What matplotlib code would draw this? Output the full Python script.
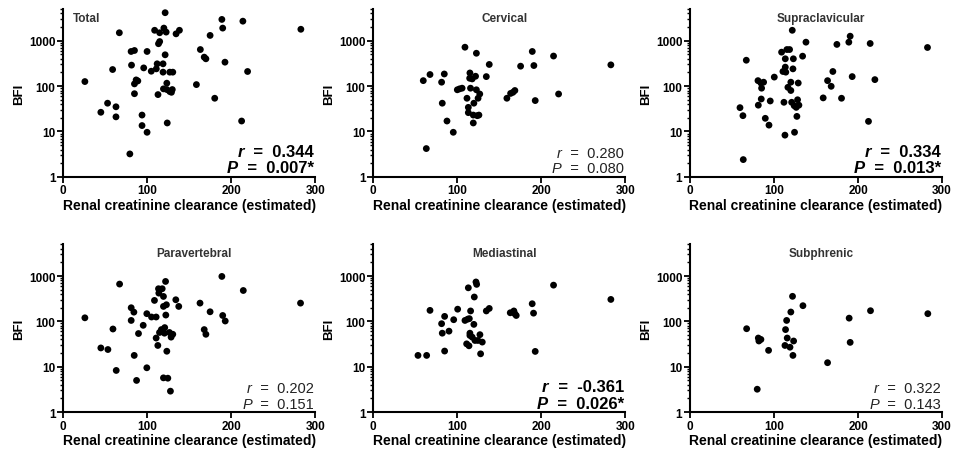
import matplotlib
matplotlib.use("Agg")
import matplotlib.pyplot as plt
from matplotlib.ticker import LogLocator, FixedLocator, FuncFormatter, NullFormatter
from matplotlib.offsetbox import TextArea, HPacker, VPacker, AnchoredOffsetbox

plt.rcParams["font.family"] = ["Liberation Sans", "DejaVu Sans"]

# BFI vs estimated renal creatinine clearance

total_x = [26, 45, 53, 63, 63, 59, 67, 79.5, 81.5, 81, 85, 85, 85, 87, 89, 94, 94, 96,
           100, 100, 105, 109, 111, 112, 113, 113.6, 115, 115, 119, 119, 119.5, 120,
           121.5, 121.5, 122.7, 123.5, 124, 123.5, 127, 127, 129, 130, 130.6, 134.5,
           138.5, 158.7, 163.4, 168, 170, 175, 180.5, 189, 190, 192.7, 212.5, 214,
           219.6, 283]
total_y = [126, 26.5, 42, 35, 21, 232, 1500, 3.2, 290, 580, 610, 68, 112, 137, 130, 23,
           13.5, 252, 9.6, 580, 213, 1700, 240, 310, 65, 860, 960, 1500, 310, 203, 87,
           1900, 4150, 490, 1550, 116, 15.4, 84, 76, 203, 73, 84, 203, 1420, 1700, 108,
           640, 435, 400, 1310, 54, 2950, 1900, 337, 17, 2700, 210, 1790]

cervical_x = [59.8, 67.8, 63.4, 81.6, 82.4, 84.8, 88, 95.5, 100.3, 103, 106, 109.4,
              111.8, 113.4, 113.4, 115, 115.3, 116, 118, 119.3, 119.3, 120, 122, 123,
              123, 124, 125, 126, 127, 134.8, 138.3, 159.3, 163.7, 166.5, 168.8, 175.6,
              189.5, 191.4, 193, 214.8, 220.8, 283]
cervical_y = [132, 180, 4.2, 122, 42, 185, 17, 9.6, 83, 87, 90, 720, 54, 34, 26, 149,
              195, 90, 144, 15.4, 23, 42, 165, 530, 83, 22.3, 54, 23, 67, 162, 300, 54,
              69, 73, 80, 275, 580, 284, 48, 460, 67, 294]

supra_x = [59.5, 63, 63.4, 67, 81.3, 80.9, 84.4, 85.2, 84.8, 87.6, 89.6, 94, 95.5,
           100.3, 109, 110.6, 111.8, 113, 113.4, 113.4, 114, 115.3, 116.5, 118.5, 120,
           120, 121, 121.7, 123, 122.5, 124, 124.4, 126.4, 127.2, 128, 128.8, 129.6, 134,
           138, 158.5, 163.7, 168, 170, 174.8, 180.3, 189, 190.6, 193, 212.4, 214.4, 220,
           282.6]
supra_y = [33.5, 22.3, 2.4, 372, 38, 132, 117, 90, 52, 122, 19.5, 13.8, 47, 158, 560,
           210, 44, 8.3, 400, 262, 203, 640, 94, 640, 122, 80, 44, 1700, 400, 240, 37,
           9.6, 34, 21.5, 50, 117, 38, 457, 930, 55, 132, 99, 210, 830, 54, 930, 1260,
           162, 16.7, 870, 139, 710]

para_x = [26, 45, 53.4, 59.4, 63.3, 67.3, 81.1, 81.1, 84.3, 84.7, 87.5, 89.8, 95.4,
          99.7, 99.7, 105.3, 108.8, 110.8, 110.8, 112.8, 113.6, 114, 114.8, 117, 118,
          119.5, 119.5, 119.5, 120.7, 121, 122, 122.3, 123, 123.5, 124.7, 126.6, 127.8,
          128.6, 130.6, 134.2, 137.7, 163, 168, 170, 175, 189, 190, 193, 214.5, 282.6]
para_y = [120, 26, 24, 68, 8.3, 665, 200, 105, 160, 17.8, 5, 54, 82, 9.5, 148, 125,
          290, 125, 43, 29.5, 525, 420, 57, 66, 525, 355, 214, 5.7, 55, 73, 760, 138,
          233, 22, 5.6, 57, 2.9, 45, 52, 300, 214, 253, 66, 52, 163, 980, 135, 102, 480,
          253]

medi_x = [53.5, 63.8, 67.8, 81.6, 82.4, 85.2, 85.2, 90.4, 96, 100.7, 109.4, 111.4,
          112.6, 113.4, 114.2, 114.6, 115.3, 115.3, 116.1, 118, 120, 120.5, 121.3, 122.5,
          123.3, 124.8, 127.2, 128, 130, 134.8, 138.3, 163.3, 167.6, 168.8, 170.4, 189.4,
          191, 193, 214.8, 283]
medi_y = [17.8, 17.8, 175, 89, 55, 129, 22.2, 61, 109, 186, 105, 32, 112, 550, 29, 115,
          55, 49, 170, 45, 86, 345, 38, 740, 655, 38, 51, 19.3, 35, 170, 193, 155, 170,
          147, 135, 245, 152, 21.8, 630, 305]

subph_x = [67.4, 80, 81.3, 82, 84.4, 93.5, 113, 113.7, 115, 115.7, 119, 120, 122,
           122.5, 123.3, 134.4, 163.7, 189.4, 190.6, 214.8, 283]
subph_y = [69, 3.2, 43, 37, 40, 23, 29.5, 66, 105, 43, 27, 161, 357, 17.8, 37, 222,
           12.3, 118, 34.5, 172, 148]

titles = ["Total", "Cervical", "Supraclavicular", "Paravertebral", "Mediastinal", "Subphrenic"]
r_vals = ["0.344", "0.280", "0.334", "0.202", "-0.361", "0.322"]
p_vals = ["0.007*", "0.080", "0.013*", "0.151", "0.026*", "0.143"]
significant = [True, False, True, False, True, False]

xs = [total_x, cervical_x, supra_x, para_x, medi_x, subph_x]
ys = [total_y, cervical_y, supra_y, para_y, medi_y, subph_y]

fig = plt.figure(figsize=(9.55, 4.56), dpi=100)

lefts = [0.066, 0.3906, 0.7225]
bottoms = [0.610, 0.094]
w, h = 0.264, 0.368


def stat_line(letter, value, sig):
    if sig:
        props = dict(fontsize=12, fontweight="bold", color="black")
    else:
        props = dict(fontsize=10.5, fontweight="normal", color="#222222")
    a = TextArea(letter, textprops=dict(style="italic", **props))
    b = TextArea("  =  " + value, textprops=props)
    return HPacker(children=[a, b], align="baseline", pad=0, sep=0)


for i in range(6):
    ax = fig.add_axes([lefts[i % 3], bottoms[i // 3], w, h])
    ax.scatter(xs[i], ys[i], s=24, color="black", edgecolors="none", zorder=3)

    ax.set_yscale("log")
    ax.set_xlim(0, 300)
    ax.set_ylim(1, 5000)
    ax.xaxis.set_major_locator(FixedLocator([0, 100, 200, 300]))
    ax.yaxis.set_major_locator(FixedLocator([1, 10, 100, 1000]))
    ax.yaxis.set_minor_locator(LogLocator(base=10, subs=range(2, 10), numticks=20))
    ax.yaxis.set_major_formatter(FuncFormatter(lambda v, pos: "%d" % v))
    ax.yaxis.set_minor_formatter(NullFormatter())

    for side in ["top", "right"]:
        ax.spines[side].set_visible(False)
    for side in ["left", "bottom"]:
        ax.spines[side].set_linewidth(1.5)
    ax.tick_params(which="major", direction="out", length=4, width=1.3, pad=1.5,
                   labelsize=8.5)
    ax.tick_params(which="minor", direction="out", length=2.5, width=1.0)
    for lab in ax.get_xticklabels() + ax.get_yticklabels():
        lab.set_fontweight("bold")

    ax.set_xlabel("Renal creatinine clearance (estimated)", fontsize=10,
                  fontweight="bold", labelpad=1)
    ax.set_ylabel("BFI", fontsize=9.5, fontweight="bold", labelpad=3)

    if i == 0:
        ax.text(0.04, 0.946, titles[i], transform=ax.transAxes, fontsize=8.5,
                fontweight="bold", color="#333333", ha="left", va="center")
    else:
        ax.text(0.52, 0.946, titles[i], transform=ax.transAxes, fontsize=8.5,
                fontweight="bold", color="#333333", ha="center", va="center")

    box = VPacker(children=[stat_line("r", r_vals[i], significant[i]),
                            stat_line("P", p_vals[i], significant[i])],
                  align="right", pad=0, sep=1)
    anchored = AnchoredOffsetbox(loc="lower right", child=box, pad=0, borderpad=0.1,
                                 frameon=False, bbox_to_anchor=(1.0, 0.0),
                                 bbox_transform=ax.transAxes)
    ax.add_artist(anchored)

fig.savefig("out.png", dpi=100)
